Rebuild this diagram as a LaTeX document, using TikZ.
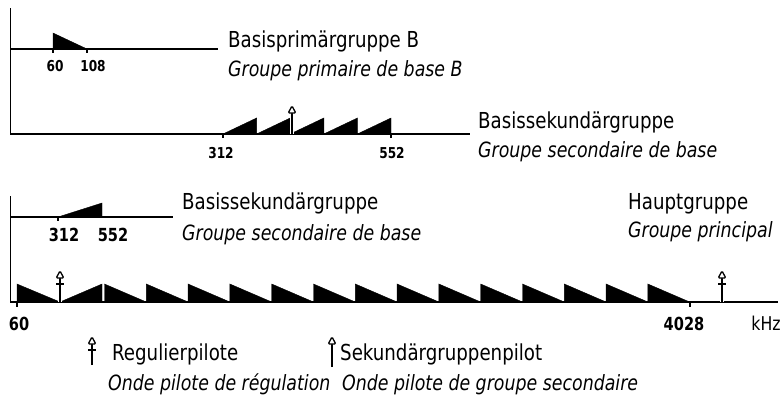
\documentclass[tikz,border=0pt]{standalone}
\usepackage{fontspec}
\newfontfamily\labfont[FakeStretch=0.92]{DejaVu Sans Condensed}
\newfontfamily\labfontsl[FakeStretch=0.92]{DejaVu Sans Condensed Oblique}
\newfontfamily\numfont[FakeStretch=0.9]{DejaVu Sans Condensed Bold}
\begin{document}
\begin{tikzpicture}[x=1pt,y=-1pt,
  axis/.style={line width=1.4pt},
  tickmark/.style={line width=1.2pt},
  band/.style={fill=black,draw=black,line width=0.4pt,line join=miter},
  de/.style={font=\labfont\fontsize{22}{22}\selectfont,anchor=base west,inner sep=0pt},
  fr/.style={font=\labfontsl\fontsize{21}{21}\selectfont,anchor=base west,inner sep=0pt},
  numlab/.style={font=\numfont\fontsize{15}{15}\selectfont,anchor=base,inner sep=0pt},
  numbig/.style={font=\numfont\fontsize{18}{18}\selectfont,anchor=base,inner sep=0pt},
  pilotsek/.pic={
    \draw[white,line width=3.5pt] (0,0) -- (0,-#1+7);
    \draw[line width=1.5pt] (0,0) -- (0,-#1+7);
    \draw[line width=1.3pt,fill=white,rounded corners=1.2pt] (-3.8,-#1+7) -- (3.8,-#1+7) -- (0,-#1) -- cycle;
  },
  pilotreg/.pic={
    \draw[white,line width=3.5pt] (0,0) -- (0,-#1+7);
    \draw[line width=1.5pt] (0,0) -- (0,-#1+7);
    \draw[line width=1.4pt] (-4,-#1+13) -- (4,-#1+13);
    \draw[line width=1.3pt,fill=white,rounded corners=1.2pt] (-3.8,-#1+7) -- (3.8,-#1+7) -- (0,-#1) -- cycle;
  }]
\useasboundingbox (0,0) rectangle (783,407);

% ---------- panel 1 ----------
\coordinate (a1top) at (10.5,8);
\coordinate (a1bot) at (10.5,134);
\coordinate (l1end) at (218,49);
\coordinate (l1start) at (10.5,49);
\coordinate (l2end) at (470,134);
\draw[axis] (a1top) -- (a1bot) -- (l2end);
\draw[axis] (l1start) -- (l1end);
% primary group
\fill[band] (53,49) -- (53,33) -- (87,49) -- cycle;
\draw[tickmark] (53,49) -- (53,53);
\draw[tickmark] (87,49) -- (87,53);
\node[numlab] (n60a) at (55,71) {60};
\node[numlab] (n108a) at (93,71) {108};
\node[de] (t1a) at (228,47) {Basisprimärgruppe B};
\node[fr] (t1b) at (228,76) {Groupe primaire de base B};
% secondary group
\foreach \i in {0,...,4}{
  \pgfmathsetmacro{\xa}{223+\i*33.6}
  \pgfmathsetmacro{\xb}{\xa+33.6}
  \fill[band] (\xa,134) -- (\xb,118) -- (\xb,134) -- cycle;
}
\pic at (292,134) {pilotsek=28};
\draw[tickmark] (223,134) -- (223,138);
\draw[tickmark] (391,134) -- (391,138);
\node[numlab] (n312a) at (221,158) {312};
\node[numlab] (n552a) at (392,158) {552};
\node[de] (t2a) at (478,128) {Basissekundärgruppe};
\node[fr] (t2b) at (478,157) {Groupe secondaire de base};

% ---------- panel 2 ----------
\coordinate (a2top) at (10.5,196);
\coordinate (a2bot) at (10.5,302);
\coordinate (l3start) at (10.5,217);
\coordinate (l3end) at (173,217);
\coordinate (l4end) at (778,302);
\draw[axis] (a2top) -- (a2bot) -- (l4end);
\draw[axis] (l3start) -- (l3end);
\fill[band] (58,217) -- (102,203) -- (102,217) -- cycle;
\draw[tickmark] (58,217) -- (58,221);
\node[numbig] (n312b) at (64,241) {312};
\node[numbig] (n552b) at (113,241) {552};
\node[de] (t3a) at (182,209) {Basissekundärgruppe};
\node[fr] (t3b) at (182,240) {Groupe secondaire de base};
\node[de] (t4a) at (628,209) {Hauptgruppe};
\node[fr] (t4b) at (628,237) {Groupe principal};
% main group bands
\fill[band] (17,302) -- (17,284) -- (60,302) -- cycle;
\fill[band] (60,302) -- (102,284) -- (102,302) -- cycle;
\foreach \i in {0,...,13}{
  \pgfmathsetmacro{\xa}{104.5+\i*41.8}
  \pgfmathsetmacro{\xb}{\xa+41.8}
  \fill[band] (\xa,302) -- (\xa,284) -- (\xb,302) -- cycle;
}
\pic at (60,302) {pilotreg=31};
\pic at (722,302) {pilotreg=31};
\draw[tickmark] (17,302) -- (17,307);
\draw[tickmark] (690,302) -- (690,307);
\node[numbig] (n60b) at (19,330) {60};
\node[numbig] (n4028) at (684,330) {4028};
\node[font=\labfont\fontsize{19}{19}\selectfont,anchor=base,inner sep=0pt] (khz) at (766,330) {kHz};

% ---------- legend ----------
\pic at (92,365) {pilotreg=28};
\node[de] (leg1a) at (112,360) {Regulierpilote};
\node[fr] (leg1b) at (108,390) {Onde pilote de régulation};
\pic at (332,367) {pilotsek=30};
\node[de] (leg2a) at (340,360) {Sekundärgruppenpilot};
\node[fr] (leg2b) at (342,390) {Onde pilote de groupe secondaire};
\end{tikzpicture}
\end{document}
